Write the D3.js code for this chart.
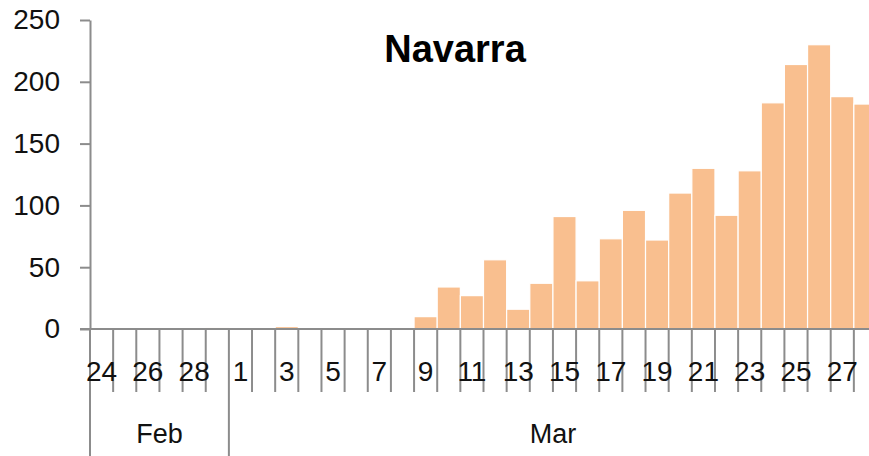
<!DOCTYPE html>
<html>
<head>
<meta charset="utf-8">
<script src="https://cdn.jsdelivr.net/npm/d3@7"></script>
<style>
  body { margin: 0; background: #fff; }
  svg { display: block; font-family: "Liberation Sans", Arial, sans-serif; }
</style>
</head>
<body>
<svg width="869" height="456"></svg>
<script>
// one entry per day, Feb 24 .. Mar 28 (2020)
const days = [24, 25, 26, 27, 28, 29,
  1, 2, 3, 4, 5, 6, 7, 8, 9, 10, 11, 12, 13, 14, 15, 16, 17, 18, 19, 20,
  21, 22, 23, 24, 25, 26, 27, 28]
const months = ['Feb', 'Feb', 'Feb', 'Feb', 'Feb', 'Feb',
  'Mar', 'Mar', 'Mar', 'Mar', 'Mar', 'Mar', 'Mar', 'Mar', 'Mar', 'Mar', 'Mar', 'Mar', 'Mar', 'Mar',
  'Mar', 'Mar', 'Mar', 'Mar', 'Mar', 'Mar', 'Mar', 'Mar', 'Mar', 'Mar', 'Mar', 'Mar', 'Mar', 'Mar']
const cases = [0, 0, 0, 0, 0, 1,
  0, 0, 2, 0, 0, 0, 0, 0, 10, 34, 27, 56, 16, 37, 91, 39, 73, 96, 72, 110,
  130, 92, 128, 183, 214, 230, 188, 182]
const yTicks = [0, 50, 100, 150, 200, 250]
const title = 'Navarra'

const svg = d3.select('svg')
const axisColor = '#8c8c8c'
const keys = days.map((d, i) => months[i] + ' ' + d)

const x = d3.scaleBand()
  .domain(keys)
  .range([90, 877])
  .padding(0)

const y = d3.scaleLinear()
  .domain([0, 250])
  .range([329, 20])

// bars
svg.append('g')
  .selectAll('rect')
  .data(cases)
  .join('rect')
  .attr('x', (d, i) => x(keys[i]))
  .attr('y', d => y(d))
  .attr('width', x.bandwidth())
  .attr('height', d => y(0) - y(d))
  .style('fill', '#f9bf8f')
  .style('stroke', '#fff')
  .style('stroke-width', 1.2)

// y axis
const yAxis = svg.append('g')
  .attr('transform', 'translate(90,0)')
  .call(d3.axisLeft(y).tickValues(yTicks).tickSize(10).tickSizeOuter(0).tickPadding(20))
yAxis.select('.domain').attr('stroke', axisColor).attr('stroke-width', 2)
yAxis.selectAll('.tick line').attr('stroke', axisColor).attr('stroke-width', 2)
yAxis.selectAll('.tick text')
  .style('font-size', '28px')
  .attr('fill', '#111')

// x axis baseline
svg.append('line')
  .attr('x1', 80).attr('x2', 877)
  .attr('y1', y(0)).attr('y2', y(0))
  .attr('stroke', axisColor).attr('stroke-width', 2)

// day boundary ticks; month boundaries run further down
const bounds = keys.map(k => x(k)).concat([x.range()[1]])
svg.append('g')
  .selectAll('line')
  .data(bounds)
  .join('line')
  .attr('x1', d => d).attr('x2', d => d)
  .attr('y1', y(0))
  .attr('y2', (d, i) => (i === 0 || (i < keys.length && months[i] !== months[i - 1])) ? 456 : 392)
  .attr('stroke', axisColor)
  .attr('stroke-width', 2)

// day labels, every other day
svg.append('g')
  .selectAll('text')
  .data(keys.filter((k, i) => i % 2 === 0))
  .join('text')
  .attr('x', k => x(k) + x.bandwidth() / 2)
  .attr('y', 381)
  .attr('text-anchor', 'middle')
  .style('font-size', '28px')
  .attr('fill', '#111')
  .text(k => k.split(' ')[1])

// month labels centred on their span
const monthNames = Array.from(new Set(months))
svg.append('g')
  .selectAll('text')
  .data(monthNames)
  .join('text')
  .attr('x', m => {
    const idx = keys.filter((k, i) => months[i] === m)
    return (x(idx[0]) + x(idx[idx.length - 1]) + x.bandwidth()) / 2
  })
  .attr('y', 443)
  .attr('text-anchor', 'middle')
  .style('font-size', '27px')
  .attr('fill', '#111')
  .text(m => m)

svg.append('text')
  .attr('x', 455)
  .attr('y', 62)
  .attr('text-anchor', 'middle')
  .style('font-size', '38px')
  .style('font-weight', 'bold')
  .attr('fill', '#000')
  .text(title)
</script>
</body>
</html>
